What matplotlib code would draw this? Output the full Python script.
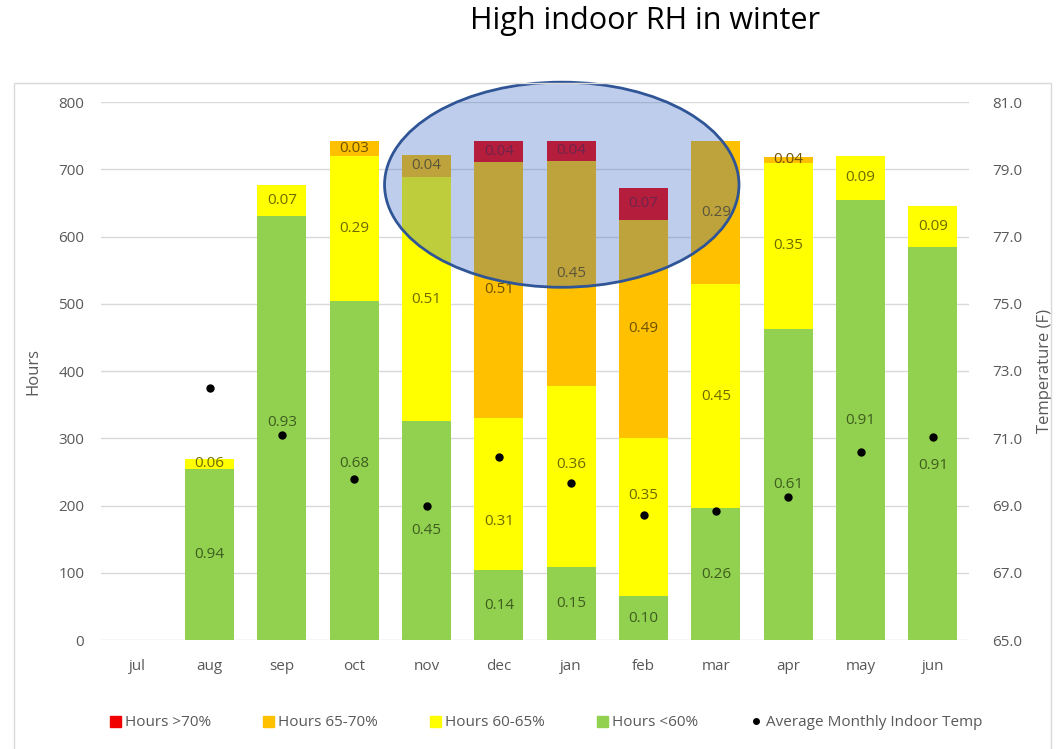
#!/usr/bin/env python3
"""High indoor RH in winter: monthly RH-band hours with average indoor temp."""
import numpy as np
import matplotlib
matplotlib.use('Agg')
import matplotlib.pyplot as plt
from matplotlib.patches import Ellipse, Patch, Rectangle
from matplotlib.lines import Line2D

months = ['jul', 'aug', 'sep', 'oct', 'nov', 'dec', 'jan', 'feb', 'mar', 'apr', 'may', 'jun']
hrs_lt60 = [0, 255, 630, 504, 325, 104, 108, 65, 196, 463, 654, 585]
hrs_60_65 = [0, 14, 47, 216, 364, 226, 269, 235, 333, 247, 66, 61]
hrs_65_70 = [0, 0, 0, 22, 32, 381, 336, 325, 213, 8, 0, 0]
hrs_gt70 = [0, 0, 0, 0, 0, 31, 29, 47, 0, 0, 0, 0]
avg_temp = [np.nan, 72.5, 71.1, 69.78, 69.0, 70.45, 69.68, 68.72, 68.84, 69.24, 70.6, 71.04]

lab_lt60 = ['', '0.94', '0.93', '0.68', '0.45', '0.14', '0.15', '0.10', '0.26', '0.61', '0.91', '0.91']
lab_60_65 = ['', '0.06', '0.07', '0.29', '0.51', '0.31', '0.36', '0.35', '0.45', '0.35', '0.09', '0.09']
lab_65_70 = ['', '', '', '0.03', '0.04', '0.51', '0.45', '0.49', '0.29', '0.04', '', '']
lab_gt70 = ['', '', '', '', '', '0.04', '0.04', '0.07', '', '', '', '']

# labels nudged (points) so they clear the temperature dots, as in the original
nudge_lt60 = [0, 0, 4, 5, 0, 0, 0, 0, 0, 0, 0, -16]
nudge_60_65 = [0, 0, 0, 0, 0, -20, 9, 16, 0, 0, 0, 0]
no_nudge = [0] * 12

COL = {'green': '#92D050', 'yellow': '#FFFF00', 'orange': '#FFC000', 'red': '#F00000',
       'grid': '#D9D9D9', 'tick': '#595959'}

plt.rcParams.update({'font.family': ['Open Sans', 'DejaVu Sans']})

fig = plt.figure(figsize=(10.63, 7.49), dpi=100, facecolor='white')
fig.patches.append(Rectangle((14 / 1063, -0.05), 1037 / 1063, 1 - 83 / 749 + 0.05,
                             transform=fig.transFigure, fill=False, ec='#D9D9D9', lw=1))
ax = fig.add_axes([101 / 1063, 1 - 640 / 749, 868 / 1063, 538 / 749])
ax2 = ax.twinx()

x = np.arange(len(months))
series = [(hrs_lt60, lab_lt60, nudge_lt60, COL['green'], '#3E5E1E'),
          (hrs_60_65, lab_60_65, nudge_60_65, COL['yellow'], '#6E6A00'),
          (hrs_65_70, lab_65_70, no_nudge, COL['orange'], '#6E5200'),
          (hrs_gt70, lab_gt70, no_nudge, COL['red'], '#8A0A1A')]
bottom = np.zeros(len(months))
for vals, labs, nudge, col, tcol in series:
    vals = np.array(vals, dtype=float)
    ax.bar(x, vals, bottom=bottom, width=0.68, color=col, zorder=2)
    for i, t in enumerate(labs):
        if t:
            ax.annotate(t, (x[i], bottom[i] + vals[i] / 2), xytext=(0, nudge[i]),
                        textcoords='offset points', ha='center', va='center',
                        fontsize=11, color=tcol, zorder=3)
    bottom += vals

ax.set_xlim(-0.5, len(months) - 0.5)
ax.set_ylim(0, 800)
ax.set_yticks(range(0, 801, 100))
ax.grid(axis='y', color=COL['grid'], lw=1)
ax.set_axisbelow(True)
ax.set_xticks(x, months)
ax.set_ylabel('Hours', fontsize=12, color=COL['tick'], labelpad=12)
ax.tick_params(length=0, labelsize=11, colors=COL['tick'], pad=12)
ax.tick_params(axis='x', pad=14)

ax2.plot(x, avg_temp, 'o', color='black', ms=5, zorder=4)
ax2.set_ylim(65, 81)
ax2.set_yticks(np.arange(65, 81.1, 2))
ax2.set_yticklabels([f'{v:.1f}' for v in np.arange(65, 81.1, 2)])
ax2.set_ylabel('Temperature (F)', fontsize=12, color=COL['tick'], labelpad=10)
ax2.tick_params(length=0, labelsize=11, colors=COL['tick'], pad=17)
for a in (ax, ax2):
    for s in a.spines.values():
        s.set_visible(False)

ax2.add_patch(Ellipse((5.87, 677), 4.9, 305, transform=ax.transData, facecolor='#3060BF',
                      alpha=0.31, edgecolor='none', zorder=10, clip_on=False))
ax2.add_patch(Ellipse((5.87, 677), 4.9, 305, transform=ax.transData, facecolor='none',
                      edgecolor='#2F5597', lw=2, zorder=11, clip_on=False))

fig.text(645 / 1063, 1 - 21 / 749, 'High indoor RH in winter', ha='center', va='center',
         fontsize=22, color='black')

handles = [Patch(color=COL['red'], label='Hours >70%'),
           Patch(color=COL['orange'], label='Hours 65-70%'),
           Patch(color=COL['yellow'], label='Hours 60-65%'),
           Patch(color=COL['green'], label='Hours <60%'),
           Line2D([], [], marker='o', color='black', ls='none', ms=4,
                  label='Average Monthly Indoor Temp')]
leg = fig.legend(handles=handles, loc='center', bbox_to_anchor=(546 / 1063, 1 - 723 / 749),
                 ncol=5, frameon=False, fontsize=11, handlelength=0.7, handleheight=0.7,
                 handletextpad=0.3, columnspacing=3.4)
for t in leg.get_texts():
    t.set_color(COL['tick'])

fig.savefig('out.png', dpi=100, facecolor='white')
